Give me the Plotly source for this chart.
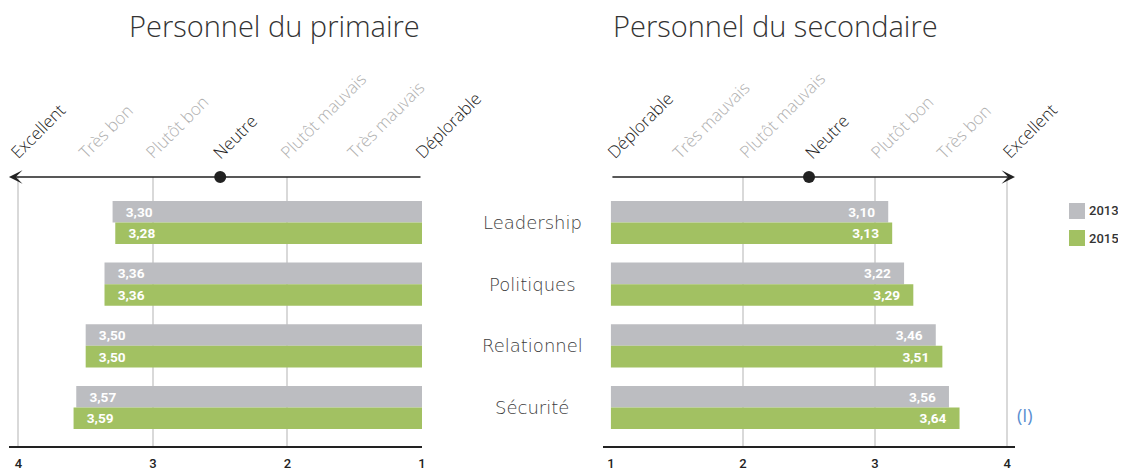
import plotly.graph_objects as go

# ---------------- data ----------------
categories = ["Leadership", "Politiques", "Relationnel", "Sécurité"]
year_names = ["2013", "2015"]
primaire_2013 = [3.30, 3.36, 3.50, 3.57]
primaire_2015 = [3.28, 3.36, 3.50, 3.59]
secondaire_2013 = [3.10, 3.22, 3.46, 3.56]
secondaire_2015 = [3.13, 3.29, 3.51, 3.64]

scale_labels = ["Excellent", "Très bon", "Plutôt bon", "Neutre",
                "Plutôt mauvais", "Très mauvais", "Déplorable"]
scale_values = [4, 3.5, 3, 2.5, 2, 1.5, 1]
scale_emphasis = [True, False, False, True, False, False, True]
tick_values = [1, 2, 3, 4]
tick_labels = ["1", "2", "3", "4"]
grid_values = [2, 3, 4]
neutral_value = 2.5
scale_min = 1
titles = ["Personnel du primaire", "Personnel du secondaire"]
note_text = "(I)"

# ---------------- styling ----------------
PAGE_W, PAGE_H = 1126, 473
OFF = 8  # default body margin of the html page
W, H = PAGE_W - OFF, PAGE_H - OFF
GRAY = "#bcbdc1"
GREEN = "#a2c162"
DARK = "#222222"
LIGHT = "#b0b0b0"
FONT = "Roboto"
LFONT = "Open Sans"
NBSP = "\u00a0"
year_colors = [GRAY, GREEN]


def px_x(p):
    return (p - OFF) / W


def px_y(p):
    return 1 - (p - OFF) / H


y_dom = [px_y(446), px_y(177)]
left_dom = [px_x(9), px_x(422)]
right_dom = [px_x(603), px_x(1015)]
left_range = [4.07, 0.9999]
right_range = [0.94, 4.06]
y_range = [3.624, -0.738]


def fmt(v):
    return f"{v:.2f}".replace(".", ",")


fig = go.Figure()

panels = [
    ("x", "y", primaire_2013, primaire_2015, "left"),
    ("x2", "y2", secondaire_2013, secondaire_2015, "right"),
]
for pi, (xa, ya, d13, d15, side) in enumerate(panels):
    for name, data, color in ((year_names[0], d13, GRAY), (year_names[1], d15, GREEN)):
        if side == "left":
            texts = [NBSP * 3 + fmt(v) for v in data]
        else:
            texts = [fmt(v) + NBSP * 3 for v in data]
        fig.add_trace(go.Bar(
            y=categories,
            x=[v - scale_min for v in data],
            base=scale_min,
            orientation="h",
            name=name,
            showlegend=False,
            marker=dict(color=color, line=dict(width=0)),
            text=texts,
            textposition="inside",
            insidetextanchor="end",
            textfont=dict(color="white", size=14, family=FONT, weight="bold"),
            customdata=data,
            hovertemplate="%{y} " + name + ": %{customdata:.2f}<extra></extra>",
            xaxis=xa,
            yaxis=ya,
        ))

axis_common = dict(
    tickmode="array",
    tickvals=tick_values,
    ticktext=tick_labels,
    showgrid=False,
    zeroline=False,
    showline=True,
    linecolor=DARK,
    linewidth=1.5,
    ticks="",
    ticklabelstandoff=5,
    tickfont=dict(family=FONT, size=13, color=DARK, weight=500),
    minor=dict(tickmode="array", tickvals=grid_values, showgrid=True,
               gridcolor="#d9d9d9", gridwidth=1.5, ticks=""),
    fixedrange=True,
    automargin=False,
)
yaxis_common = dict(
    type="category",
    categoryorder="array",
    categoryarray=categories,
    range=y_range,
    domain=y_dom,
    showticklabels=False,
    showgrid=False,
    zeroline=False,
    showline=False,
    ticks="",
    fixedrange=True,
    automargin=False,
)

fig.update_layout(
    width=W, height=H,
    margin=dict(l=0, r=0, t=0, b=0, autoexpand=False),
    paper_bgcolor="white",
    plot_bgcolor="rgba(0,0,0,0)",
    barmode="group",
    bargap=0.3,
    bargroupgap=0,
    xaxis=dict(domain=left_dom, range=left_range, anchor="y", **axis_common),
    xaxis2=dict(domain=right_dom, range=right_range, anchor="y2", **axis_common),
    yaxis=dict(anchor="x", **yaxis_common),
    yaxis2=dict(anchor="x2", **yaxis_common),
    showlegend=False,
    font=dict(family=FONT),
)

annotations = []
shapes = []

# titles
annotations.append(dict(text=titles[0], xref="paper", yref="paper",
                        x=px_x(422), y=px_y(26), xanchor="right", yanchor="middle",
                        showarrow=False,
                        font=dict(family=LFONT, size=29, color="#333333", weight=300)))
annotations.append(dict(text=titles[1], xref="paper", yref="paper",
                        x=px_x(611), y=px_y(26), xanchor="left", yanchor="middle",
                        showarrow=False,
                        font=dict(family=LFONT, size=29, color="#333333", weight=300)))

# scale arrows, neutral dots and rotated scale labels
for xa, head, shift in (("x", left_range[0], -15), ("x2", right_range[1], -12)):
    annotations.append(dict(
        x=head, y=y_dom[1], xref=xa, yref="paper",
        ax=scale_min, ay=0, axref=xa, ayref="pixel",
        showarrow=True, arrowhead=3, arrowsize=1.5, arrowwidth=1.5,
        arrowcolor=DARK, text="", standoff=0, startstandoff=0,
    ))
    shapes.append(dict(
        type="circle", xref=xa, yref="paper",
        xsizemode="pixel", ysizemode="pixel",
        xanchor=neutral_value, yanchor=y_dom[1],
        x0=-6, x1=6, y0=-6, y1=6,
        fillcolor=DARK, line=dict(width=0),
    ))
    if xa == "x":
        items = zip(scale_labels, scale_values, scale_emphasis)
    else:
        items = zip(scale_labels[::-1], scale_values[::-1], scale_emphasis[::-1])
    for lab, val, emph in items:
        annotations.append(dict(
            text=lab, x=val, y=px_y(166), xref=xa, yref="paper",
            xanchor="left", yanchor="bottom", textangle=-45, xshift=shift,
            showarrow=False,
            font=dict(family=LFONT, size=17, color=DARK if emph else LIGHT,
                      weight=300),
        ))

# category labels in the middle
for cat in categories:
    annotations.append(dict(
        text=cat, x=px_x(532), y=cat, xref="paper", yref="y",
        xanchor="center", yanchor="middle", showarrow=False,
        font=dict(family="DejaVu Sans", size=18, color="#3c3c3c", weight=200),
    ))

# legend (drawn as squares + labels)
for i, (name, color) in enumerate(zip(year_names, year_colors)):
    top = 203 + 27 * i
    shapes.append(dict(
        type="rect", xref="paper", yref="paper",
        x0=px_x(1069), x1=px_x(1085), y0=px_y(top + 16), y1=px_y(top),
        fillcolor=color, line=dict(width=0),
    ))
    annotations.append(dict(
        text=name, xref="paper", yref="paper",
        x=px_x(1087), y=px_y(top + 8), xanchor="left", yanchor="middle",
        showarrow=False,
        font=dict(family=FONT, size=13, color="#333333", weight=500),
    ))

# note mark
annotations.append(dict(
    text=note_text, x=px_x(1025), y=px_y(415), xref="paper", yref="paper",
    xanchor="center", yanchor="middle", showarrow=False,
    font=dict(family=LFONT, size=18, color="#5a8ed0", weight=500),
))

fig.update_layout(annotations=annotations, shapes=shapes)

fig.write_html("out.html")
